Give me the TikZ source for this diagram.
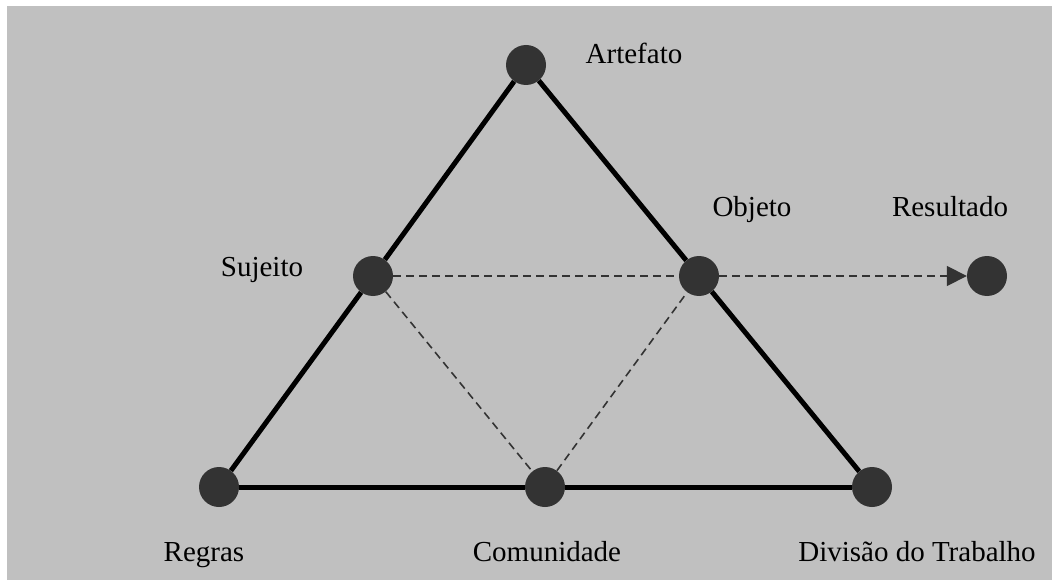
\documentclass[tikz,border=0pt]{standalone}
\usepackage{fontspec}
\setmainfont{Liberation Serif}
\usetikzlibrary{arrows.meta,positioning}
\definecolor{panel}{HTML}{C0C0C0}
\definecolor{dotgray}{HTML}{333333}
\tikzset{
  dot/.style={circle,fill=dotgray,minimum size=40pt,inner sep=0pt},
  side/.style={line width=5pt,black},
  link/.style={line width=1.6pt,dotgray,dash pattern=on 8pt off 5pt},
  linkarrow/.style={link,-{Triangle[length=20pt,width=20pt]}},
  lbl/.style={anchor=base,inner sep=0pt,font=\fontsize{29}{34}\selectfont}
}
\begin{document}
\begin{tikzpicture}[x=1pt,y=-1pt]
        \fill[white] (0,0) rectangle (1052,580);
        \useasboundingbox (0,0) rectangle (1052,580);
        \fill[panel] (7,6) rectangle (1052,580);
        \node[dot] (art) at (526,65) {};
        \node[dot] (suj) at (373,276) {};
        \node[dot] (obj) at (699,276) {};
        \node[dot] (res) at (987,276) {};
        \node[dot] (reg) at (219,487) {};
        \node[dot] (com) at (545,487) {};
        \node[dot] (div) at (872,487) {};
        \node[lbl] (artlbl) at (634,64) {Artefato};
        \node[lbl] (sujlbl) at (262,276) {Sujeito};
        \node[lbl] (objlbl) at (752,217) {Objeto};
        \node[lbl] (reslbl) at (950,217) {Resultado};
        \node[lbl] (reglbl) at (204,561) {Regras};
        \node[lbl] (comlbl) at (547,561) {Comunidade};
        \node[lbl] (divlbl) at (917,561) {Divisão do Trabalho};
        \draw[side] (art) -- (suj);
        \draw[side] (suj) -- (reg);
        \draw[side] (reg) -- (com);
        \draw[side] (com) -- (div);
        \draw[side] (div) -- (obj);
        \draw[side] (obj) -- (art);
        \draw[link] (suj) -- (obj);
        \draw[link] (suj) -- (com);
        \draw[link] (com) -- (obj);
        \draw[linkarrow] (obj) -- (res);
      \end{tikzpicture}
\end{document}
